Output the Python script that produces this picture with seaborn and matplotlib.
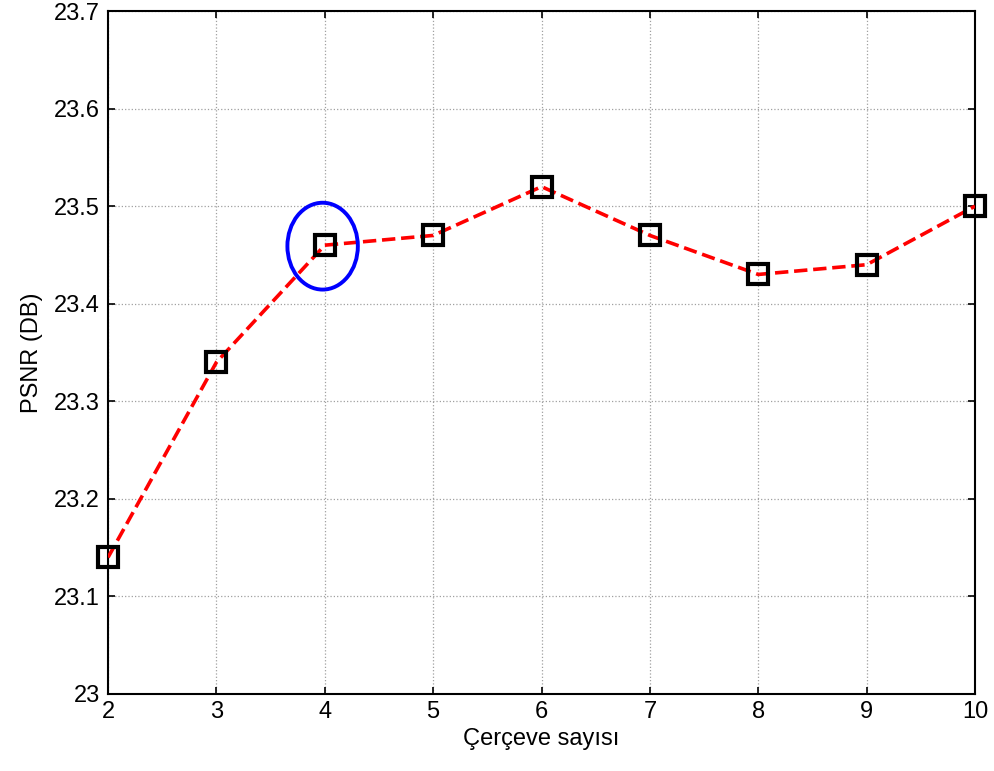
import numpy as np
import pandas as pd
import seaborn as sns
import matplotlib.pyplot as plt
from matplotlib.patches import Ellipse

# Veri
cerceve = [2, 3, 4, 5, 6, 7, 8, 9, 10]
psnr = [23.14, 23.34, 23.46, 23.47, 23.52, 23.47, 23.43, 23.44, 23.50]
y_ticks = [23, 23.1, 23.2, 23.3, 23.4, 23.5, 23.6, 23.7]
y_tick_labels = ["23", "23.1", "23.2", "23.3", "23.4", "23.5", "23.6", "23.7"]

df = pd.DataFrame({"Cerceve": cerceve, "PSNR": psnr})

sns.set_style("white")
plt.rcParams['font.family'] = ['Liberation Sans', 'DejaVu Sans']

fig = plt.figure(figsize=(9.94, 7.71), dpi=100)
ax = fig.add_axes([0.1087, 0.0999, 0.8722, 0.8858])

sns.lineplot(x="Cerceve", y="PSNR", data=df, ax=ax, color="red",
             linestyle="--", linewidth=2.6, zorder=3)
ax.plot(df["Cerceve"], df["PSNR"], linestyle="none", marker="s",
        markersize=15, markerfacecolor="none", markeredgecolor="black",
        markeredgewidth=3, zorder=4, clip_on=False)

# Çember
ax.add_patch(Ellipse((3.98, 23.459), 0.65, 0.089, fill=False,
                     edgecolor="blue", linewidth=2.8, zorder=5))

ax.set_xlim(2, 10)
ax.set_ylim(23, 23.7)
ax.set_xticks(cerceve)
ax.set_yticks(y_ticks)
ax.set_yticklabels(y_tick_labels)
ax.grid(True, color="#a0a0a0", linestyle=":", linewidth=0.9)
ax.tick_params(direction="in", length=5, width=1.2, labelsize=17,
               labelcolor="black", color="black",
               top=True, right=True, bottom=True, left=True, pad=6)
ax.tick_params(axis="x", pad=5)
for s in ax.spines.values():
    s.set_visible(True)
    s.set_color("black")
    s.set_linewidth(1.5)

ax.set_xlabel("Çerçeve sayısı", fontsize=17, labelpad=4, color="black")
ax.set_ylabel("PSNR (DB)", fontsize=17, labelpad=8, color="black")

fig.savefig("out.png", dpi=100)
